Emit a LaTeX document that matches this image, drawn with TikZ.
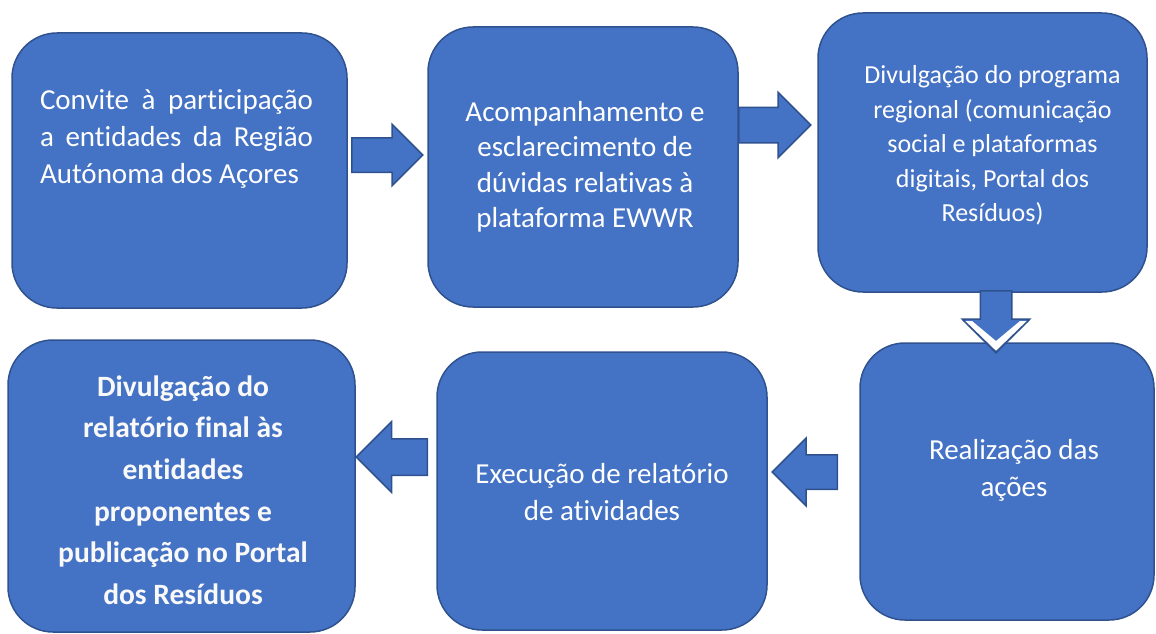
\documentclass[tikz,border=0pt]{standalone}
\usepackage{fontspec}
\setmainfont[RawFeature={-liga;-clig;-calt}]{Carlito}
\usepackage{tikz}
\usetikzlibrary{shapes,shapes.arrows,positioning}
\usepackage{xcolor}
\definecolor{ofblue}{RGB}{68,114,196}
\definecolor{ofdark}{RGB}{47,82,143}
\tikzstyle{stepbox} = [rectangle, rounded corners=45pt, draw=ofdark, fill=ofblue, line width=1.5pt, inner sep=0pt]
\tikzstyle{steptext} = [text=white, inner sep=0pt, align=center, font=\fontsize{29}{37}\selectfont]
\tikzstyle{blockarrow} = [single arrow, draw=ofdark, fill=ofblue, line width=1.5pt, inner xsep=0pt, single arrow tip angle=90, single arrow head indent=0pt, anchor=tail]

\begin{document}
\begin{tikzpicture}[x=1pt,y=-1pt]
\useasboundingbox (0,0) rectangle (1156,634);

% Top row
\node[stepbox, minimum width=335pt, minimum height=275pt] (convite) at (179.5,170.5) {};
\node[stepbox, minimum width=310pt, minimum height=280pt] (acomp) at (583,167) {};
\node[stepbox, minimum width=329pt, minimum height=279pt] (divprog) at (982.5,152.5) {};

% Bottom row
\node[stepbox, minimum width=294pt, minimum height=277pt] (realiz) at (1007,481.5) {};
\node[stepbox, minimum width=330pt, minimum height=278pt] (execu) at (602,491) {};
\node[stepbox, minimum width=347pt, minimum height=292pt] (divrel) at (181.5,486) {};

% Texts
\node[steptext, align=left] (convite-txt) at ([yshift=32pt, xshift=-3pt]convite.center)
  {\makebox[273pt][s]{Convite à participação}\\
   \makebox[273pt][s]{a entidades da Região}\\
   \makebox[273pt][l]{Autónoma dos Açores}};
\node[steptext, font=\fontsize{29}{35.5}\selectfont] (acomp-txt) at ([xshift=2pt]acomp.center)
  {Acompanhamento e\\esclarecimento de\\dúvidas relativas à\\plataforma EWWR};
\node[steptext, font=\fontsize{26}{34.5}\selectfont] (divprog-txt) at ([yshift=7pt, xshift=10pt]divprog.center)
  {Divulgação do programa\\regional (comunicação\\social e plataformas\\digitais, Portal dos\\Resíduos)};
\node[steptext] (realiz-txt) at ([yshift=11pt, xshift=7pt]realiz.center)
  {Realização das\\ações};
\node[steptext] (execu-txt) at ([yshift=-1.5pt]execu.center)
  {Execução de relatório\\de atividades};
\node[steptext, text=white!95!gray, font=\bfseries\fontsize{29.5}{41.6}\selectfont] (divrel-txt) at ([yshift=-4pt, xshift=1.5pt]divrel.center)
  {Divulgação do\\relatório final às\\entidades\\proponentes e\\publicação no Portal\\dos Resíduos};

% Block arrows
\node[blockarrow, minimum height=71pt, inner ysep=16.5pt, single arrow head extend=13.5pt] (arr1) at (351,155) {};
\node[blockarrow, minimum height=72pt, inner ysep=17pt, single arrow head extend=15pt] (arr2) at (738,125) {};
\node[blockarrow, minimum height=62pt, inner ysep=15pt, single arrow head extend=18pt, rotate=-90] (arr3) at (996,290) {};
\node[blockarrow, minimum height=65pt, inner ysep=16.5pt, single arrow head extend=16.5pt, rotate=180] (arr4) at (838,472) {};
\node[blockarrow, minimum height=71pt, inner ysep=17.5pt, single arrow head extend=17pt, rotate=180] (arr5) at (428,457) {};

% Light chevron on the down arrow
\fill[white] (963,321) -- (996,352) -- (1029,321) -- (1020,321) -- (996,341) -- (972,321) -- cycle;
\draw[ofdark, line width=1.5pt] (963,320) -- (996,352) -- (1029,320);
\end{tikzpicture}
\end{document}
